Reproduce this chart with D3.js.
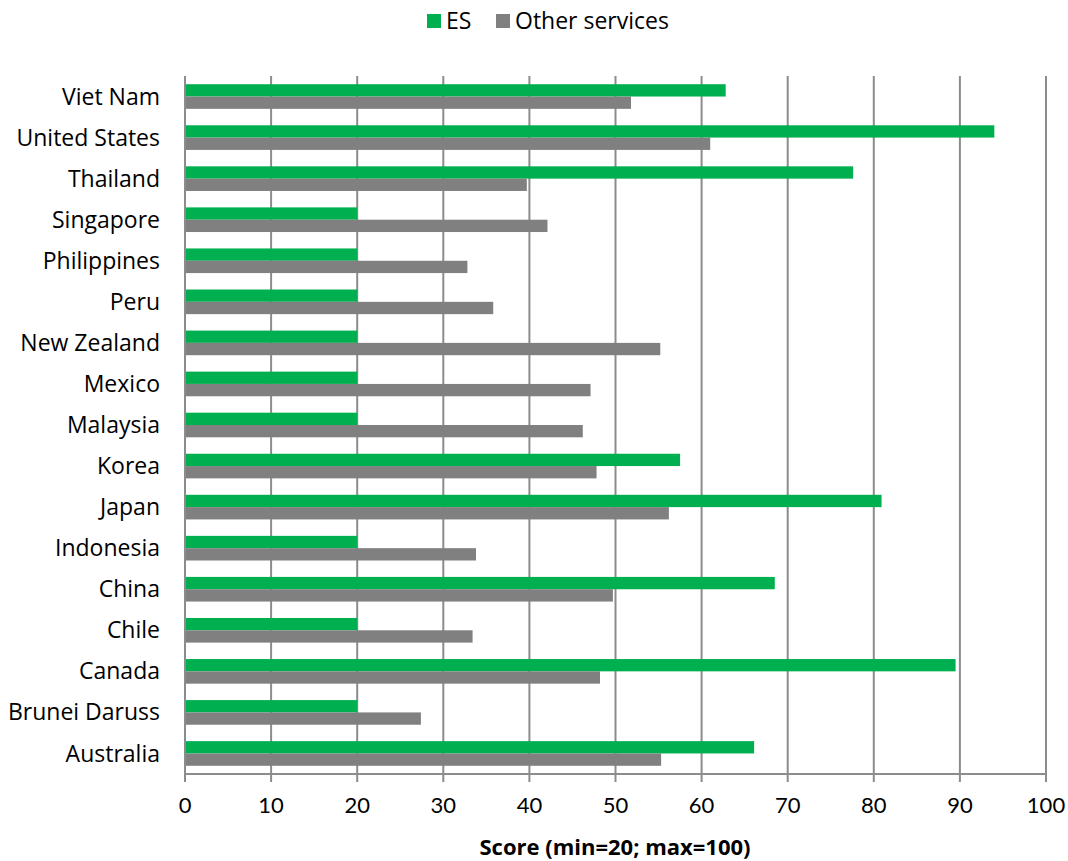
<!DOCTYPE html>
<html>
<head>
<meta charset="utf-8">
<script src="https://cdn.jsdelivr.net/npm/d3@7"></script>
<style>
  body { margin: 0; background: #fff; }
  text { font-family: "Open Sans", Lato, sans-serif; fill: #000; }
</style>
</head>
<body>
<div id="chart"></div>
<script>
// Data (top to bottom)
var countries = ["Viet Nam", "United States", "Thailand", "Singapore", "Philippines", "Peru",
    "New Zealand", "Mexico", "Malaysia", "Korea", "Japan", "Indonesia", "China", "Chile",
    "Canada", "Brunei Daruss", "Australia"];
var esScores = [62.8, 94.0, 77.6, 20, 20, 20, 20, 20, 20, 57.5, 80.9, 20, 68.5, 20, 89.5, 20, 66.1];
var otherScores = [51.8, 61.0, 39.7, 42.1, 32.8, 35.8, 55.2, 47.1, 46.2, 47.8, 56.2, 33.8, 49.7, 33.4, 48.2, 27.4, 55.3];
var seriesNames = ["ES", "Other services"];
var seriesColors = ["#00b050", "#808080"];
var xTicks = [0, 10, 20, 30, 40, 50, 60, 70, 80, 90, 100];

var W = 1068, H = 861;
var margin = { top: 76, right: 22, bottom: 87, left: 185 },
    width = W - margin.left - margin.right,
    height = H - margin.top - margin.bottom;

var svg = d3.select("#chart").append("svg").attr("width", W).attr("height", H);
var g = svg.append("g").attr("transform", "translate(" + margin.left + "," + margin.top + ")");

var x = d3.scaleLinear().domain([0, 100]).range([0, width]);
var y = d3.scaleBand().domain(countries).range([0, height]).paddingInner(0.4).paddingOuter(0.2);
var ySub = d3.scaleBand().domain(seriesNames).range([0, y.bandwidth()]);

// gridlines behind bars
g.append("g").selectAll("line").data(xTicks.slice(1)).enter().append("line")
    .attr("x1", function(d) { return x(d); }).attr("x2", function(d) { return x(d); })
    .attr("y1", 0).attr("y2", height + 8)
    .attr("stroke", "#8c8c8c").attr("stroke-width", 2);

// bars
var rows = countries.map(function(c, i) {
    return { name: c, vals: [esScores[i], otherScores[i]] };
});
var grp = g.selectAll(".row").data(rows).enter().append("g")
    .attr("transform", function(d) { return "translate(0," + y(d.name) + ")"; });
grp.selectAll("rect").data(function(d) {
        return d.vals.map(function(v, k) { return { s: seriesNames[k], v: v, k: k }; });
    }).enter().append("rect")
    .attr("x", x(0) + 1)
    .attr("y", function(d) { return ySub(d.s); })
    .attr("width", function(d) { return x(d.v) - x(0) - 1; })
    .attr("height", ySub.bandwidth())
    .attr("fill", function(d) { return seriesColors[d.k]; });

// axes lines
g.append("line").attr("x1", 0).attr("x2", 0).attr("y1", 0).attr("y2", height + 8)
    .attr("stroke", "#8c8c8c").attr("stroke-width", 2);
g.append("line").attr("x1", 0).attr("x2", width + 1).attr("y1", height).attr("y2", height)
    .attr("stroke", "#8c8c8c").attr("stroke-width", 2);

// x tick labels
g.append("g").selectAll("text").data(xTicks).enter().append("text")
    .attr("x", function(d) { return x(d); })
    .attr("y", height + 39)
    .attr("text-anchor", "middle")
    .style("font-family", "Lato, sans-serif")
    .style("font-size", "22px")
    .text(function(d) { return d; });

// category labels
g.append("g").selectAll("text").data(countries).enter().append("text")
    .attr("x", -25)
    .attr("y", function(d) { return y(d) + y.bandwidth() / 2; })
    .attr("dy", "0.35em")
    .attr("text-anchor", "end")
    .style("font-size", "23px")
    .text(function(d) { return d; });

// axis title
svg.append("text").attr("x", 615).attr("y", 855)
    .attr("text-anchor", "middle").style("font-size", "22px").style("font-weight", "bold")
    .text("Score (min=20; max=100)");

// legend
var legend = svg.append("g").attr("transform", "translate(427,14)");
var lx = [0, 69];
seriesNames.forEach(function(s, i) {
    legend.append("rect").attr("x", lx[i]).attr("y", 0).attr("width", 14).attr("height", 14)
        .attr("fill", seriesColors[i]);
    legend.append("text").attr("x", lx[i] + 19).attr("y", 7).attr("dy", "0.35em")
        .style("font-size", "23px").text(s);
});
</script>
</body>
</html>
